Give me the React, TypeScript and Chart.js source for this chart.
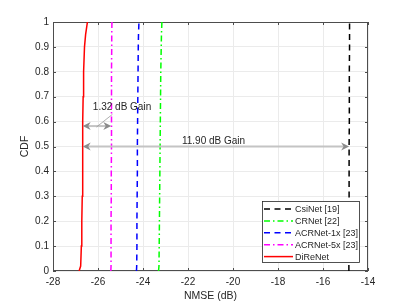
import React, { useEffect, useRef } from "react";
import { Chart, registerables } from "chart.js";

Chart.register(...registerables);

// CDF levels and NMSE (dB) values per model
const cdfLevels = [0, 0.02, 0.1, 0.2, 0.3, 0.4, 0.5, 0.6, 0.7, 0.8, 0.9, 0.95, 1];
const csiNet = [-14.85, -14.85, -14.85, -14.85, -14.84, -14.84, -14.84, -14.83, -14.83, -14.83, -14.82, -14.82, -14.82];
const crNet = [-23.31, -23.29, -23.28, -23.27, -23.26, -23.25, -23.24, -23.23, -23.22, -23.21, -23.19, -23.18, -23.16];
const acrNet1x = [-24.29, -24.28, -24.27, -24.27, -24.26, -24.25, -24.25, -24.24, -24.23, -24.22, -24.21, -24.2, -24.18];
const acrNet5x = [-25.43, -25.42, -25.42, -25.42, -25.41, -25.41, -25.4, -25.4, -25.4, -25.4, -25.39, -25.39, -25.38];
const diReNet = [-26.84, -26.77, -26.74, -26.72, -26.7, -26.69, -26.68, -26.67, -26.66, -26.64, -26.6, -26.55, -26.47];

const seriesNames = ["CsiNet [19]", "CRNet [22]", "ACRNet-1x [23]", "ACRNet-5x [23]", "DiReNet"];
const seriesValues = [csiNet, crNet, acrNet1x, acrNet5x, diReNet];
const seriesColors = ["#000000", "#00ff00", "#0000ff", "#ff00ff", "#ff0000"];
const seriesDashes: number[][] = [[6, 4.5], [6, 3, 1.5, 3], [6, 4.5], [6, 3, 1.5, 3], []];

const xTicks = [-28, -26, -24, -22, -20, -18, -16, -14];
const yTicks = [0, 0.1, 0.2, 0.3, 0.4, 0.5, 0.6, 0.7, 0.8, 0.9, 1];
const xTickLabels = ["-28", "-26", "-24", "-22", "-20", "-18", "-16", "-14"];
const yTickLabels = ["0", "0.1", "0.2", "0.3", "0.4", "0.5", "0.6", "0.7", "0.8", "0.9", "1"];

// Gain annotations (data units)
const gainArrowFrom = [-26.68, -26.68];
const gainArrowTo = [-25.41, -14.84];
const gainArrowY = [0.582, 0.5];
const gainLabels = ["1.32 dB Gain", "11.90 dB Gain"];
const gainLabelX = [-26.23, -22.27];
const gainLabelY = [0.656, 0.523];
const leaderFrom = [-25.36, 0.629];
const leaderTo = [-26.07, 0.578];

const FONT = '"Liberation Sans", Arial, Helvetica, sans-serif';

function drawHead(ctx: CanvasRenderingContext2D, tipX: number, tipY: number, dir: number) {
  const L = 8, W = 4, N = 5.5;
  ctx.beginPath();
  ctx.moveTo(tipX, tipY);
  ctx.lineTo(tipX + dir * L, tipY - W);
  ctx.lineTo(tipX + dir * N, tipY);
  ctx.lineTo(tipX + dir * L, tipY + W);
  ctx.closePath();
  ctx.fill();
}

const overlayPlugin = {
  id: "overlay",
  beforeDatasetsDraw(chart: any) {
    const { ctx, chartArea } = chart;
    const xs = chart.scales.x;
    const ys = chart.scales.y;
    const { left, right, top, bottom } = chartArea;
    ctx.save();
    ctx.strokeStyle = "#4d4d4d";
    ctx.lineWidth = 1;
    // box
    ctx.strokeRect(left + 0.5, top + 0.5, right - left - 1, bottom - top - 1);
    // inward ticks
    const tl = 3;
    ctx.beginPath();
    xTicks.forEach((v) => {
      const px = Math.round(xs.getPixelForValue(v)) + 0.5;
      ctx.moveTo(px, bottom);
      ctx.lineTo(px, bottom - tl);
      ctx.moveTo(px, top);
      ctx.lineTo(px, top + tl);
    });
    yTicks.forEach((v) => {
      const py = Math.round(ys.getPixelForValue(v)) + 0.5;
      ctx.moveTo(left, py);
      ctx.lineTo(left + tl, py);
      ctx.moveTo(right, py);
      ctx.lineTo(right - tl, py);
    });
    ctx.stroke();
    // axis titles
    ctx.fillStyle = "#262626";
    ctx.font = `10.5px ${FONT}`;
    ctx.textAlign = "center";
    ctx.textBaseline = "middle";
    ctx.fillText("NMSE (dB)", (left + right) / 2, 296);
    ctx.save();
    ctx.translate(25, (top + bottom) / 2);
    ctx.rotate(-Math.PI / 2);
    ctx.fillText("CDF", 0, 0);
    ctx.restore();
    ctx.restore();
  },
  afterDatasetsDraw(chart: any) {
    const { ctx } = chart;
    const xs = chart.scales.x;
    const ys = chart.scales.y;
    ctx.save();
    // arrows
    for (let i = 0; i < gainArrowFrom.length; i++) {
      const x1 = xs.getPixelForValue(gainArrowFrom[i]);
      const x2 = xs.getPixelForValue(gainArrowTo[i]);
      const y = ys.getPixelForValue(gainArrowY[i]);
      ctx.strokeStyle = "#c4c4c4";
      ctx.lineWidth = 2;
      ctx.beginPath();
      ctx.moveTo(x1 + 5, y);
      ctx.lineTo(x2 - 5, y);
      ctx.stroke();
      ctx.fillStyle = "#8a8a8a";
      drawHead(ctx, x1, y, 1);
      drawHead(ctx, x2, y, -1);
    }
    // leader line
    ctx.strokeStyle = "#9a9a9a";
    ctx.lineWidth = 0.8;
    ctx.beginPath();
    ctx.moveTo(xs.getPixelForValue(leaderFrom[0]), ys.getPixelForValue(leaderFrom[1]));
    ctx.lineTo(xs.getPixelForValue(leaderTo[0]), ys.getPixelForValue(leaderTo[1]));
    ctx.stroke();
    // labels
    ctx.fillStyle = "#262626";
    ctx.font = `10px ${FONT}`;
    ctx.textAlign = "left";
    ctx.textBaseline = "middle";
    for (let i = 0; i < gainLabels.length; i++) {
      ctx.fillText(gainLabels[i], xs.getPixelForValue(gainLabelX[i]), ys.getPixelForValue(gainLabelY[i]));
    }
    ctx.restore();
  },
  afterDraw(chart: any) {
    const { ctx } = chart;
    ctx.save();
    const bx = 262, by = 201, bw = 98, bh = 62;
    ctx.fillStyle = "#ffffff";
    ctx.fillRect(bx, by, bw, bh);
    ctx.strokeStyle = "#262626";
    ctx.lineWidth = 0.8;
    ctx.strokeRect(bx + 0.5, by + 0.5, bw - 1, bh - 1);
    ctx.font = `9px ${FONT}`;
    ctx.textAlign = "left";
    ctx.textBaseline = "middle";
    for (let i = 0; i < seriesNames.length; i++) {
      const ry = 209 + i * 11.9;
      ctx.strokeStyle = seriesColors[i];
      ctx.lineWidth = 1.5;
      ctx.setLineDash(seriesDashes[i]);
      ctx.beginPath();
      ctx.moveTo(264, ry);
      ctx.lineTo(293, ry);
      ctx.stroke();
      ctx.setLineDash([]);
      ctx.fillStyle = "#262626";
      ctx.fillText(seriesNames[i], 295, ry + 0.5);
    }
    ctx.restore();
  },
};

export default function App() {
  const ref = useRef<HTMLCanvasElement | null>(null);
  useEffect(() => {
    document.body.style.margin = "0";
    if (!ref.current) return;
    const chart = new Chart(ref.current, {
      type: "scatter",
      data: {
        datasets: seriesNames.map((name, i) => ({
          label: name,
          data: cdfLevels.map((c, j) => ({ x: seriesValues[i][j], y: c })),
          showLine: true,
          borderColor: seriesColors[i],
          backgroundColor: seriesColors[i],
          borderWidth: 1.5,
          borderDash: seriesDashes[i],
          pointRadius: 0,
          pointHoverRadius: 0,
          tension: 0,
        })),
      },
      options: {
        responsive: false,
        animation: false,
        devicePixelRatio: 1,
        layout: { padding: { left: 0, right: 39, top: 22, bottom: 0 } },
        plugins: { legend: { display: false }, tooltip: { enabled: false }, title: { display: false } },
        scales: {
          x: {
            type: "linear",
            min: -28,
            max: -14,
            afterFit: (s: any) => { s.height = 34; },
            afterBuildTicks: (s: any) => { s.ticks = xTicks.map((v) => ({ value: v })); },
            ticks: {
              font: { family: FONT, size: 10 },
              color: "#262626",
              padding: 5,
              maxRotation: 0,
              callback: (v: any) => xTickLabels[xTicks.indexOf(Number(v))] ?? "",
            },
            grid: { color: "#ebebeb", drawTicks: false, lineWidth: 1 },
            border: { display: false },
          },
          y: {
            type: "linear",
            min: 0,
            max: 1,
            afterFit: (s: any) => { s.width = 53; },
            afterBuildTicks: (s: any) => { s.ticks = yTicks.map((v) => ({ value: v })); },
            ticks: {
              font: { family: FONT, size: 10 },
              color: "#262626",
              padding: 4,
              callback: (v: any) => {
                const idx = yTicks.findIndex((t) => Math.abs(t - Number(v)) < 1e-9);
                return idx >= 0 ? yTickLabels[idx] : "";
              },
            },
            grid: { color: "#ebebeb", drawTicks: false, lineWidth: 1 },
            border: { display: false },
          },
        },
      },
      plugins: [overlayPlugin],
    } as any);
    return () => chart.destroy();
  }, []);
  return (
    <div style={{ position: "absolute", left: 0, top: 0, width: 407, height: 305, background: "#fff" }}>
      <canvas ref={ref} width={407} height={305} />
    </div>
  );
}
